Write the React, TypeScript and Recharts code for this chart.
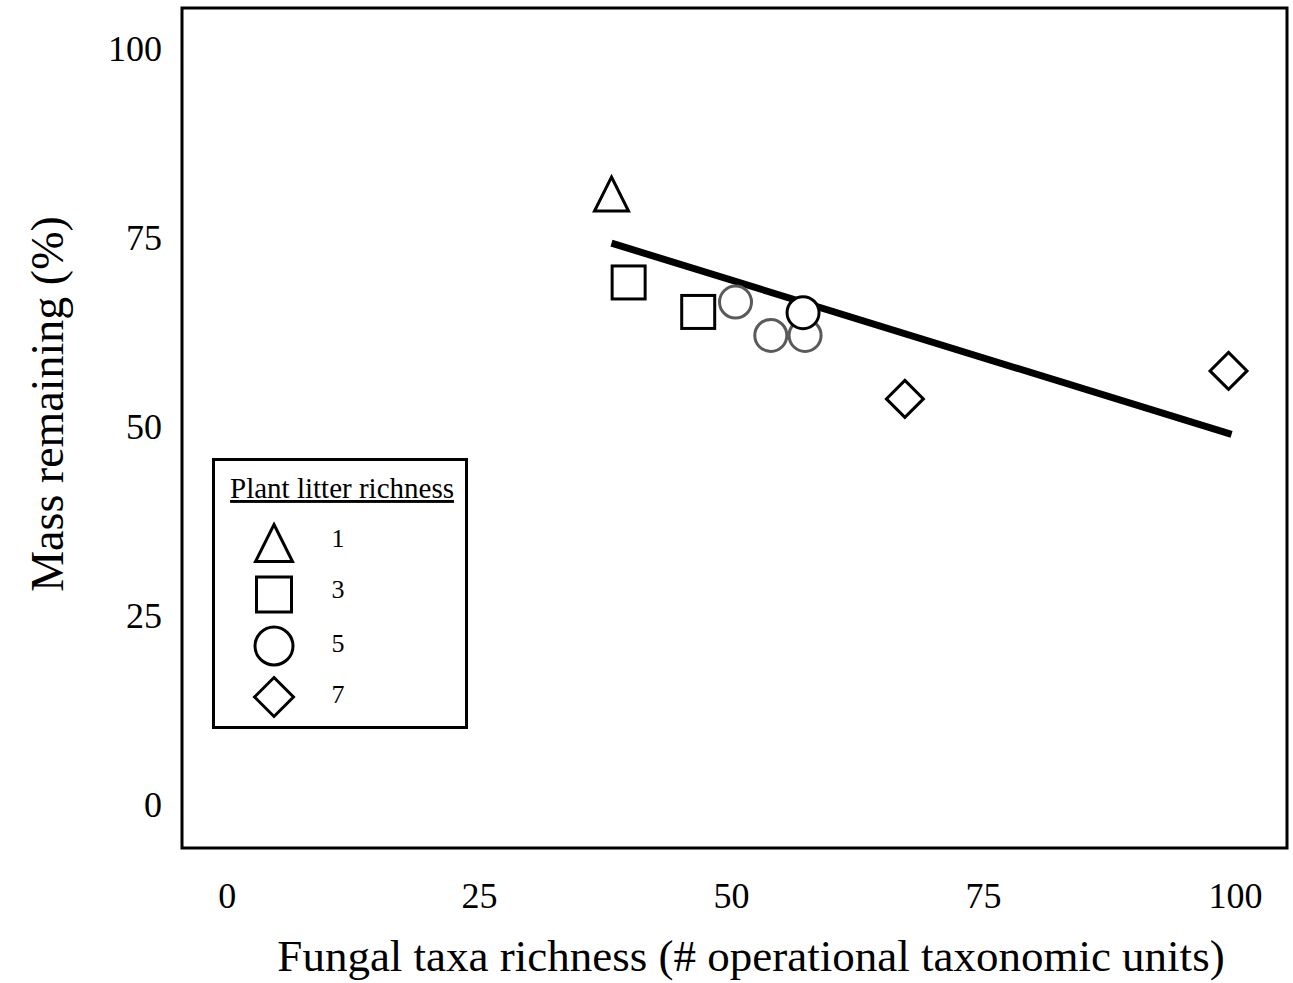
import { Cell, Label, Legend, ReferenceArea, Scatter, ScatterChart, XAxis, YAxis } from 'recharts';

const FONT = '"Liberation Serif", "Times New Roman", serif';

const xTicks = [0, 25, 50, 75, 100];
const yTicks = [0, 25, 50, 75, 100];
const xDomain: [number, number] = [-4.5, 105.1];
const yDomain: [number, number] = [-5.8, 105.3];

// mass remaining (%) vs fungal OTU richness, by plant litter richness level
const richness1 = [{ x: 38.1, y: 80.7 }];
const richness3 = [
  { x: 39.8, y: 69.0 },
  { x: 46.7, y: 65.1 },
];
const richness5 = [
  { x: 50.4, y: 66.4 },
  { x: 53.9, y: 62.0 },
  { x: 57.3, y: 62.0 },
  { x: 57.1, y: 65.0 },
];
const richness5Outline = ['#5a5a5a', '#5a5a5a', '#5a5a5a', '#000000'];
const richness7 = [
  { x: 67.2, y: 53.6 },
  { x: 99.3, y: 57.3 },
];
const fitLine = [
  { x: 38.1, y: 74.2 },
  { x: 99.6, y: 48.9 },
];

const legendTitle = 'Plant litter richness';
const legendLabels = ['1', '3', '5', '7'];
const legendKinds = ['triangle', 'square', 'circle', 'diamond'];

type Kind = 'triangle' | 'square' | 'circle' | 'diamond';

function Mark({ kind, cx, cy, h, stroke = '#000' }: { kind: Kind; cx: number; cy: number; h: number; stroke?: string }) {
  const common = { fill: '#fff', stroke, strokeWidth: 3 };
  if (kind === 'circle') return <circle cx={cx} cy={cy} r={h} {...common} />;
  if (kind === 'square') return <rect x={cx - h} y={cy - h} width={2 * h} height={2 * h} {...common} />;
  if (kind === 'diamond')
    return <path d={`M${cx},${cy - h}L${cx + h},${cy}L${cx},${cy + h}L${cx - h},${cy}Z`} {...common} />;
  return <path d={`M${cx},${cy - h}L${cx + h},${cy + h}L${cx - h},${cy + h}Z`} {...common} />;
}

const shapeFor = (kind: Kind, h: number) => (props: any) =>
  <Mark kind={kind} cx={props.cx} cy={props.cy} h={h} stroke={props.stroke || '#000'} />;

const legendSizes = [18.5, 17.5, 19, 19.5];
const legendRows = [82, 133.5, 185, 236];
const legendBaselines = [86, 137, 191, 242];

function LitterLegend() {
  return (
    <div
      style={{
        width: 256,
        height: 271,
        border: '3px solid #000',
        boxSizing: 'border-box',
        background: '#fff',
      }}
    >
      <svg width={250} height={265} style={{ display: 'block' }}>
        <text
          x={127}
          y={37}
          textAnchor="middle"
          fontFamily={FONT}
          fontSize={29}
          textDecoration="underline"
          fill="#000"
        >
          {legendTitle}
        </text>
        {legendLabels.map((label, i) => (
          <g key={label}>
            <Mark kind={legendKinds[i] as Kind} cx={59} cy={legendRows[i]} h={legendSizes[i]} />
            <text x={123} y={legendBaselines[i]} textAnchor="middle" fontFamily={FONT} fontSize={26} fill="#000">
              {label}
            </text>
          </g>
        ))}
      </svg>
    </div>
  );
}

const tickStyle = { fontSize: 36, fill: '#000', fontFamily: FONT };

export default function App() {
  return (
    <div style={{ position: 'absolute', left: 0, top: 0, background: '#fff' }}>
      <ScatterChart width={1293} height={983} margin={{ top: 8, right: 6, bottom: 0, left: 0 }}>
        <XAxis
          type="number"
          dataKey="x"
          domain={xDomain}
          ticks={xTicks}
          allowDataOverflow
          axisLine={false}
          tickLine={false}
          tickSize={0}
          tickMargin={34}
          height={135}
          tick={tickStyle}
        >
          <Label
            content={() => (
              <text x={751} y={971} textAnchor="middle" fontFamily={FONT} fontSize={45} fill="#000">
                Fungal taxa richness (# operational taxonomic units)
              </text>
            )}
          />
        </XAxis>
        <YAxis
          type="number"
          dataKey="y"
          domain={yDomain}
          ticks={yTicks}
          allowDataOverflow
          axisLine={false}
          tickLine={false}
          tickSize={0}
          tickMargin={20}
          width={182}
          tick={tickStyle}
        >
          <Label
            content={() => (
              <text
                x={63}
                y={404}
                transform="rotate(-90 63 404)"
                textAnchor="middle"
                fontFamily={FONT}
                fontSize={46}
                fill="#000"
              >
                Mass remaining (%)
              </text>
            )}
          />
        </YAxis>
        <ReferenceArea
          x1={xDomain[0]}
          x2={xDomain[1]}
          y1={yDomain[0]}
          y2={yDomain[1]}
          fill="none"
          fillOpacity={0}
          stroke="#000"
          strokeWidth={3}
          ifOverflow="visible"
        />
        <Legend
          layout="horizontal"
          verticalAlign="middle"
          align="center"
          wrapperStyle={{ left: 212, top: 458, width: 256, height: 271 }}
          content={() => <LitterLegend />}
        />
        <Scatter
          name="fit"
          data={fitLine}
          line={{ stroke: '#000', strokeWidth: 7 }}
          shape={() => <g />}
          legendType="none"
          isAnimationActive={false}
        />
        <Scatter name="1" data={richness1} shape={shapeFor('triangle', 17)} isAnimationActive={false} />
        <Scatter name="3" data={richness3} shape={shapeFor('square', 16.5)} isAnimationActive={false} />
        <Scatter name="5" data={richness5} shape={shapeFor('circle', 16)} isAnimationActive={false}>
          {richness5.map((_, i) => (
            <Cell key={i} stroke={richness5Outline[i]} />
          ))}
        </Scatter>
        <Scatter name="7" data={richness7} shape={shapeFor('diamond', 18.5)} isAnimationActive={false} />
      </ScatterChart>
    </div>
  );
}
